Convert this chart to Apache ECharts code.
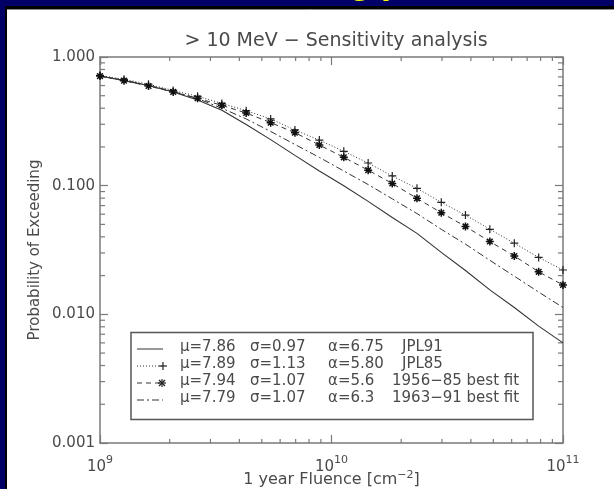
<!DOCTYPE html>
<html>
<head>
<meta charset="utf-8">
<script src="https://cdn.jsdelivr.net/npm/echarts@6/dist/echarts.min.js"></script>
<style>
  html, body { margin: 0; padding: 0; background: #000066; }
  #chart { width: 614px; height: 489px; }
</style>
</head>
<body>
<div id="chart"></div>
<script>
// fluence points (cm^-2), 20 log-spaced steps from 1e9 to 1e11
const fluence = [1.00e9, 1.27e9, 1.62e9, 2.07e9, 2.64e9, 3.36e9, 4.28e9, 5.46e9, 6.95e9, 8.86e9,
                 1.13e10, 1.44e10, 1.83e10, 2.34e10, 2.98e10, 3.79e10, 4.83e10, 6.16e10, 7.85e10, 1.00e11];

// probability of exceeding
const jpl91 = [0.711, 0.655, 0.600, 0.535, 0.463, 0.385, 0.299, 0.228, 0.172, 0.130,
               0.100, 0.0755, 0.0566, 0.0426, 0.0303, 0.0219, 0.0155, 0.0113, 0.0081, 0.0060];
const jpl85 = [0.720, 0.671, 0.614, 0.550, 0.495, 0.436, 0.383, 0.330, 0.271, 0.226,
               0.185, 0.150, 0.119, 0.0953, 0.0742, 0.0591, 0.0458, 0.0357, 0.0277, 0.0221];
const fit5685 = [0.711, 0.655, 0.595, 0.535, 0.478, 0.421, 0.367, 0.309, 0.258, 0.207,
                 0.166, 0.132, 0.104, 0.0797, 0.0616, 0.0482, 0.0368, 0.0284, 0.0214, 0.0169];
const fit6391 = [0.711, 0.660, 0.603, 0.540, 0.475, 0.400, 0.330, 0.264, 0.209, 0.166,
                 0.130, 0.102, 0.0790, 0.0607, 0.0458, 0.0351, 0.0263, 0.0198, 0.0149, 0.0113];

// legend columns
const legMu = ['\u03bc=7.86', '\u03bc=7.89', '\u03bc=7.94', '\u03bc=7.79'];
const legSigma = ['\u03c3=0.97', '\u03c3=1.13', '\u03c3=1.07', '\u03c3=1.07'];
const legAlpha = ['\u03b1=6.75', '\u03b1=5.80', '\u03b1=5.6', '\u03b1=6.3'];
const legName = ['JPL91', 'JPL85', '1956\u221285 best fit', '1963\u221291 best fit'];

const xMinor = [2e9, 3e9, 4e9, 5e9, 6e9, 7e9, 8e9, 9e9, 2e10, 3e10, 4e10, 5e10, 6e10, 7e10, 8e10, 9e10];
const yMinor = [0.002, 0.003, 0.004, 0.005, 0.006, 0.007, 0.008, 0.009,
                0.02, 0.03, 0.04, 0.05, 0.06, 0.07, 0.08, 0.09,
                0.2, 0.3, 0.4, 0.5, 0.6, 0.7, 0.8, 0.9];

const axisGray = '#7a7a7a';
const textGray = '#4a4a4a';
const lineCol = '#333';
const font = '"DejaVu Sans", sans-serif';

const plusSym = 'path://M0,4L8,4M4,0L4,8';
const starSym = 'path://M0,4L8,4M4,0L4,8M1.2,1.2L6.8,6.8M1.2,6.8L6.8,1.2';

function pairs(ys) {
  return fluence.map((f, i) => [f, ys[i]]);
}

const chart = echarts.init(document.getElementById('chart'));

const axisCommon = {
  type: 'log',
  logBase: 10,
  nameMoveOverlap: false,
  splitLine: { show: false },
  axisLine: { lineStyle: { color: axisGray, width: 1.5 } },
  axisTick: { inside: true, length: 8, lineStyle: { color: axisGray, width: 1.2 } }
};

// legend box drawn as graphic
const rowY = [347, 364, 381, 398];
const legendEls = [{
  type: 'rect', shape: { x: 131, y: 332.5, width: 402, height: 87 },
  style: { fill: '#fff', stroke: '#555', lineWidth: 1.5 }
}];
const dashes = [null, [1, 2], [5, 4], [7, 3, 2, 3]];
rowY.forEach((y, i) => {
  legendEls.push({
    type: 'line', shape: { x1: 137, y1: y + 2, x2: 163, y2: y + 2 },
    style: { stroke: lineCol, lineWidth: 1, lineDash: dashes[i] }
  });
  const cols = [[180, legMu[i]], [250, legSigma[i]], [328, legAlpha[i]], [i < 2 ? 402 : 392, legName[i]]];
  cols.forEach(c => legendEls.push({
    type: 'text', x: c[0], y: y,
    style: { text: c[1], fill: textGray, font: '15px ' + font, verticalAlign: 'middle' }
  }));
});
function armLines(cx, cy, arms) {
  return arms.map(a => ({
    type: 'line', shape: { x1: cx + a[0], y1: cy + a[1], x2: cx - a[0], y2: cy - a[1] },
    style: { stroke: '#222', lineWidth: 1.2 }
  }));
}
legendEls.push(...armLines(163, rowY[1] + 2, [[4, 0], [0, 4]]));
legendEls.push(...armLines(162, rowY[2] + 2, [[4, 0], [0, 4], [3, 3], [3, -3]]));

const option = {
  backgroundColor: '#000066',
  animation: false,
  textStyle: { fontFamily: font },
  graphic: [
    { type: 'rect', z: -2, shape: { x: 5, y: 6, width: 609, height: 483 }, style: { fill: '#000' } },
    { type: 'rect', z: -1, shape: { x: 7, y: 9, width: 607, height: 480 }, style: { fill: '#fff' } },
    { type: 'line', z: -1, shape: { x1: 7, y1: 9.5, x2: 614, y2: 9.5 }, style: { stroke: '#8a8a8a', lineWidth: 1 } },
    { type: 'text', z: -3, x: 349, y: 1, style: { text: 'g p', fill: '#ffff00', font: 'bold 36px "Liberation Sans", sans-serif', verticalAlign: 'bottom' } },
    { type: 'group', z: 5, children: legendEls }
  ],
  title: {
    text: '> 10 MeV \u2212 Sensitivity analysis',
    left: 331, top: 27, textAlign: 'center',
    textStyle: { fontFamily: font, fontSize: 19, fontWeight: 'normal', color: textGray }
  },
  grid: { left: 100, right: 51, top: 57, bottom: 46, containLabel: false, outerBoundsMode: 'none' },
  xAxis: [
    Object.assign({}, axisCommon, {
      min: 1e9, max: 1e11, position: 'bottom',
      name: '1 year Fluence [cm{s|\u22122}]',
      nameLocation: 'middle', nameGap: 27,
      nameTextStyle: {
        fontFamily: font, fontSize: 16, color: textGray, verticalAlign: 'top',
        rich: { s: { fontSize: 11, color: textGray, verticalAlign: 'top', padding: [0, 0, 8, 0] } }
      },
      axisLabel: {
        margin: 9,
        formatter: v => '{b|10}{s|' + Math.round(Math.log10(v)) + '}',
        rich: {
          b: { fontFamily: font, fontSize: 15, color: textGray, padding: [8, 0, 0, 0] },
          s: { fontFamily: font, fontSize: 11, color: textGray, padding: [0, 0, 6, 0] }
        }
      }
    }),
    Object.assign({}, axisCommon, {
      min: 1e9, max: 1e11, position: 'top', axisLabel: { show: false }
    })
  ],
  yAxis: [
    Object.assign({}, axisCommon, {
      min: 0.001, max: 1, position: 'left',
      name: 'Probability of Exceeding', nameLocation: 'middle', nameGap: 57,
      nameTextStyle: { fontFamily: font, fontSize: 15, color: textGray },
      axisLabel: { margin: 5, fontFamily: font, fontSize: 15, color: textGray, formatter: v => v.toFixed(3) }
    }),
    Object.assign({}, axisCommon, {
      min: 0.001, max: 1, position: 'right', axisLabel: { show: false }
    })
  ],
  series: [
    {
      name: 'JPL91', type: 'line', data: pairs(jpl91), symbol: 'none',
      lineStyle: { color: lineCol, width: 1.1, type: 'solid' }
    },
    {
      name: 'JPL85', type: 'line', data: pairs(jpl85), symbol: plusSym, symbolSize: 8,
      itemStyle: { color: '#222', borderColor: '#222', borderWidth: 1.2 },
      lineStyle: { color: lineCol, width: 1, type: [1, 2] }
    },
    {
      name: '1956-85 best fit', type: 'line', data: pairs(fit5685), symbol: starSym, symbolSize: 8,
      itemStyle: { color: '#111', borderColor: '#111', borderWidth: 1.5 },
      lineStyle: { color: lineCol, width: 1, type: [5, 4] }
    },
    {
      name: '1963-91 best fit', type: 'line', data: pairs(fit6391), symbol: 'none',
      lineStyle: { color: lineCol, width: 1, type: [7, 3, 2, 3] }
    },
    {
      type: 'custom', silent: true, clip: false,
      data: xMinor.map(v => [v, 1]),
      renderItem: function (params, api) {
        const x = api.coord([api.value(0), 1])[0];
        const cs = params.coordSys;
        const st = { stroke: axisGray, lineWidth: 1.2 };
        return { type: 'group', children: [
          { type: 'line', shape: { x1: x, y1: cs.y + cs.height, x2: x, y2: cs.y + cs.height - 4 }, style: st },
          { type: 'line', shape: { x1: x, y1: cs.y, x2: x, y2: cs.y + 4 }, style: st }
        ] };
      }
    },
    {
      type: 'custom', silent: true, clip: false,
      data: yMinor.map(v => [1e9, v]),
      renderItem: function (params, api) {
        const y = api.coord([1e9, api.value(1)])[1];
        const cs = params.coordSys;
        const st = { stroke: axisGray, lineWidth: 1.2 };
        return { type: 'group', children: [
          { type: 'line', shape: { x1: cs.x, y1: y, x2: cs.x + 5, y2: y }, style: st },
          { type: 'line', shape: { x1: cs.x + cs.width, y1: y, x2: cs.x + cs.width - 5, y2: y }, style: st }
        ] };
      }
    }
  ]
};

chart.setOption(option);
</script>
</body>
</html>
